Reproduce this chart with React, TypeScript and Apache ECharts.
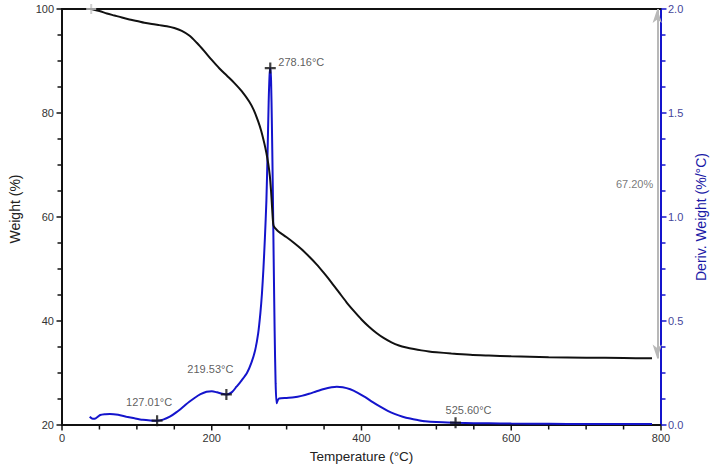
import React, { useEffect, useRef } from 'react';
import * as echarts from 'echarts';

// Weight (%) curve
const weightTemps = [39, 50, 60, 70, 80, 90, 100, 110, 120, 130, 140, 150, 160, 170, 180, 190, 200, 210, 220, 230, 240, 250, 256, 262, 266, 270, 273, 275.5, 277.5, 279.2, 280.5, 281.6, 282.6, 285, 289, 300, 310, 320, 330, 340, 350, 360, 370, 380, 390, 400, 410, 420, 430, 440, 450, 460, 470, 480, 490, 500, 520, 545, 570, 600, 650, 700, 750, 788];
const weightValues = [100, 99.6, 99.15, 98.75, 98.35, 98.0, 97.7, 97.35, 97.1, 96.9, 96.7, 96.35, 95.8, 94.9, 93.5, 91.9, 90.2, 88.6, 87.2, 85.8, 84.2, 82.2, 80.6, 78.4, 76.6, 74.3, 72.3, 70.2, 68.0, 65.0, 62.0, 59.5, 58.3, 57.8, 57.2, 56.1, 55.0, 53.8, 52.4, 50.9, 49.2, 47.4, 45.5, 43.6, 41.9, 40.3, 38.9, 37.7, 36.7, 35.9, 35.3, 34.9, 34.6, 34.35, 34.15, 34.0, 33.75, 33.5, 33.35, 33.2, 33.05, 32.95, 32.88, 32.82];

// Deriv. Weight (%/°C) curve
const derivTemps = [37, 41, 45, 51, 58, 64, 75, 86, 97, 108, 118, 127, 135, 144, 153, 162, 170, 177, 185, 193, 200, 207, 214, 220, 227, 233, 240, 247, 253, 258, 262, 265, 267, 269, 271, 273, 274.5, 276, 277.2, 278.16, 279.2, 280.3, 281.5, 282.7, 284, 285.3, 286.6, 288, 290, 300, 310, 320, 330, 340, 350, 360, 367, 375, 385, 395, 405, 415, 425, 435, 445, 455, 465, 475, 485, 500, 527, 550, 570, 600, 650, 700, 750, 788];
const derivValues = [0.04, 0.03, 0.032, 0.048, 0.052, 0.053, 0.049, 0.04, 0.032, 0.025, 0.022, 0.021, 0.026, 0.04, 0.062, 0.088, 0.112, 0.13, 0.148, 0.16, 0.162, 0.157, 0.15, 0.147, 0.158, 0.184, 0.215, 0.25, 0.3, 0.36, 0.44, 0.54, 0.63, 0.75, 0.9, 1.08, 1.3, 1.55, 1.68, 1.716, 1.66, 1.45, 1.15, 0.8, 0.45, 0.2, 0.104, 0.118, 0.127, 0.13, 0.133, 0.14, 0.15, 0.162, 0.173, 0.181, 0.184, 0.182, 0.172, 0.155, 0.134, 0.11, 0.088, 0.068, 0.052, 0.04, 0.031, 0.024, 0.018, 0.014, 0.011, 0.009, 0.008, 0.007, 0.006, 0.005, 0.005, 0.005];

// Peak markers on the derivative curve
const peakTemps = [127.01, 219.53, 278.16, 525.6];
const peakDerivs = [0.021, 0.147, 1.716, 0.011];
const peakLabels = ['127.01°C', '219.53°C', '278.16°C', '525.60°C'];

// Mass-loss annotation
const lossTemp = 795;
const lossFrom = 100;
const lossTo = 32.8;
const lossLabel = '67.20%';
const startMarker = [39, 100];

// Tick positions (major + minor) of the three axes
const xTicks = [0, 50, 100, 150, 200, 250, 300, 350, 400, 450, 500, 550, 600, 650, 700, 750, 800];
const weightTicks = [20, 25, 30, 35, 40, 45, 50, 55, 60, 65, 70, 75, 80, 85, 90, 95, 100];
const derivTicks = [0, 0.125, 0.25, 0.375, 0.5, 0.625, 0.75, 0.875, 1, 1.125, 1.25, 1.375, 1.5, 1.625, 1.75, 1.875, 2];

// label offsets (style only)
const peakLabelOffsets = [[-8, -19], [-16, -25], [31, -6], [13, -13]];

const plusSymbol = 'path://M4,0H6V4H10V6H6V10H4V6H0V4H4Z';
const FONT = '"Liberation Sans", Arial, sans-serif';

function tickSeries(data: number[][], yAxisIndex: number, dir: 'down' | 'left' | 'right', color: string) {
  return {
    type: 'custom', xAxisIndex: 0, yAxisIndex, clip: false, silent: true, z: 6,
    data,
    renderItem: (_params: any, api: any) => {
      const p = api.coord([api.value(0), api.value(1)]);
      const len = api.value(2) ? 5.5 : 4.5;
      let shape;
      if (dir === 'down') shape = { x1: p[0], y1: p[1], x2: p[0], y2: p[1] + len };
      else if (dir === 'left') shape = { x1: p[0] - len, y1: p[1], x2: p[0], y2: p[1] };
      else shape = { x1: p[0], y1: p[1], x2: p[0] + len, y2: p[1] };
      return { type: 'line', shape, style: { stroke: color, lineWidth: 1.5 } };
    },
  };
}

export default function App() {
  const ref = useRef<HTMLDivElement>(null);
  useEffect(() => {
    if (!ref.current) return;
    const chart = echarts.init(ref.current, undefined, { renderer: 'svg' });
    const blue = '#1414cc';
    const black = '#111';
    const option: any = {
      animation: false,
      textStyle: { fontFamily: FONT },
      grid: { left: 62, right: 58, top: 9, bottom: 43 },
      xAxis: [
        {
          type: 'value', min: 0, max: 800, interval: 200, position: 'bottom',
          name: 'Temperature (°C)', nameLocation: 'middle', nameGap: 24,
          nameTextStyle: { fontSize: 13.5, color: '#222', fontFamily: FONT },
          axisLine: { show: true, onZero: false, lineStyle: { color: black, width: 2 } },
          axisTick: { show: false }, minorTick: { show: false },
          axisLabel: { color: '#333', fontSize: 11, margin: 7, fontFamily: FONT },
          splitLine: { show: false }, minorSplitLine: { show: false },
        },
        {
          type: 'value', min: 0, max: 800, position: 'top',
          axisLine: { show: true, onZero: false, lineStyle: { color: black, width: 2 } },
          axisTick: { show: false }, axisLabel: { show: false }, splitLine: { show: false },
        },
      ],
      yAxis: [
        {
          type: 'value', min: 20, max: 100, interval: 20, position: 'left',
          name: 'Weight (%)', nameLocation: 'middle', nameGap: 40,
          nameTextStyle: { fontSize: 14, color: '#222', fontFamily: FONT, padding: [0, 0, 0, 16] },
          axisLine: { show: true, onZero: false, lineStyle: { color: black, width: 2 } },
          axisTick: { show: false }, minorTick: { show: false },
          axisLabel: { color: '#333', fontSize: 11, margin: 8, fontFamily: FONT },
          splitLine: { show: false }, minorSplitLine: { show: false },
        },
        {
          type: 'value', min: 0, max: 2, interval: 0.5, position: 'right',
          name: 'Deriv. Weight (%/°C)', nameLocation: 'middle', nameGap: 33,
          nameTextStyle: { fontSize: 14, color: '#1a1aa6', fontFamily: FONT },
          axisLine: { show: true, onZero: false, lineStyle: { color: blue, width: 2 } },
          axisTick: { show: false }, minorTick: { show: false },
          axisLabel: { color: '#45459a', fontSize: 11, margin: 7, fontFamily: FONT, formatter: (v: number) => v.toFixed(1) },
          splitLine: { show: false }, minorSplitLine: { show: false },
        },
      ],
      series: [
        {
          type: 'line', xAxisIndex: 0, yAxisIndex: 0, showSymbol: false, smooth: 0.3,
          data: weightTemps.map((t, i) => [t, weightValues[i]]),
          lineStyle: { color: black, width: 2 }, itemStyle: { color: black }, z: 3,
          markLine: {
            silent: true, symbol: ['arrow', 'arrow'], symbolSize: [7, 14],
            lineStyle: { color: '#b8b8b8', width: 2, type: 'solid' },
            itemStyle: { color: '#b8b8b8' },
            label: { show: false },
            data: [[{ coord: [lossTemp, lossFrom] }, { coord: [lossTemp, lossTo] }]],
          },
        },
        {
          type: 'line', xAxisIndex: 0, yAxisIndex: 1, showSymbol: false, smooth: 0.25,
          data: derivTemps.map((t, i) => [t, derivValues[i]]),
          lineStyle: { color: blue, width: 2 }, itemStyle: { color: blue }, z: 2,
        },
        {
          type: 'scatter', xAxisIndex: 0, yAxisIndex: 1, symbol: plusSymbol, symbolSize: 11, z: 5,
          itemStyle: { color: black },
          data: peakTemps.map((t, i) => ({
            value: [t, peakDerivs[i]],
            label: {
              show: true, formatter: peakLabels[i], position: 'inside',
              offset: peakLabelOffsets[i], color: '#333', fontSize: 11, fontFamily: FONT,
            },
          })),
        },
        {
          type: 'scatter', xAxisIndex: 0, yAxisIndex: 0, symbol: plusSymbol, symbolSize: 10, z: 4,
          itemStyle: { color: '#c4c4c4' },
          data: [startMarker],
        },
        {
          type: 'scatter', xAxisIndex: 0, yAxisIndex: 0, symbolSize: 0, z: 4,
          data: [{
            value: [lossTemp, (lossFrom + lossTo) / 2],
            label: { show: true, formatter: lossLabel, position: 'left', distance: 4, color: '#555', fontSize: 11, fontFamily: FONT },
          }],
        },
        tickSeries(xTicks.map((v) => [v, 20, v % 200 === 0 ? 1 : 0]), 0, 'down', black),
        tickSeries(weightTicks.map((v) => [0, v, v % 20 === 0 ? 1 : 0]), 0, 'left', black),
        tickSeries(derivTicks.map((v) => [800, v, v % 0.5 === 0 ? 1 : 0]), 1, 'right', blue),
      ],
    };
    chart.setOption(option);
    return () => chart.dispose();
  }, []);
  return <div ref={ref} style={{ position: 'absolute', left: 0, top: 0, width: 719, height: 468 }} />;
}
